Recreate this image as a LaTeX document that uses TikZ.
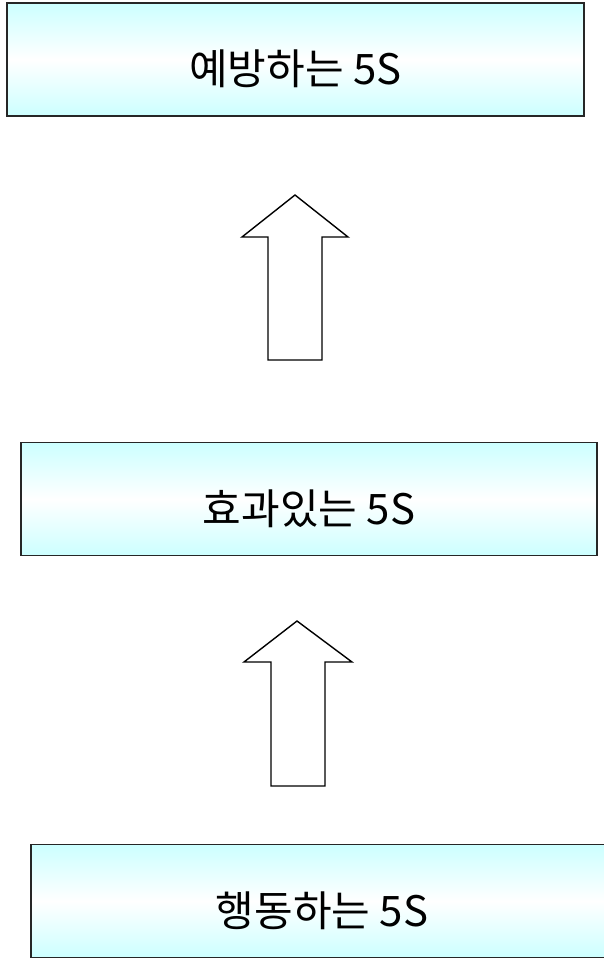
\documentclass[tikz,border=0pt]{standalone}
\usepackage{fontspec}
\newfontfamily\kofont{Noto Sans CJK KR}
\usetikzlibrary{positioning}

\begin{document}
\begin{tikzpicture}[x=1pt, y=-1pt,
    stage/.style={draw=black!85, line width=1.6pt, top color=cyan!20,
      bottom color=cyan!20, middle color=white, minimum height=113pt,
      text height=50pt, text depth=0pt,
      font=\kofont\fontsize{42}{48}\selectfont, text=black}]
  \tikzset{uparrow/.style={draw=black, line width=1.4pt, fill=white, line join=miter}}
  \useasboundingbox (0,0) rectangle (604,958);
  \node[stage, minimum width=577pt] (prevent) at (295.5,59.5) {예방하는 5S};
  \node[stage, minimum width=576pt] (effect) at (309,499) {효과있는 5S};
  \node[stage, minimum width=582pt] (act) at (322,901) {행동하는 5S};
  \draw[uparrow] (268,360) -- (268,237) -- (242,237) -- (295,195)
    -- (348,237) -- (322,237) -- (322,360) -- cycle;
  \draw[uparrow] (271,786) -- (271,662) -- (244,662) -- (297,621)
    -- (352,662) -- (325,662) -- (325,786) -- cycle;
\end{tikzpicture}
\end{document}
